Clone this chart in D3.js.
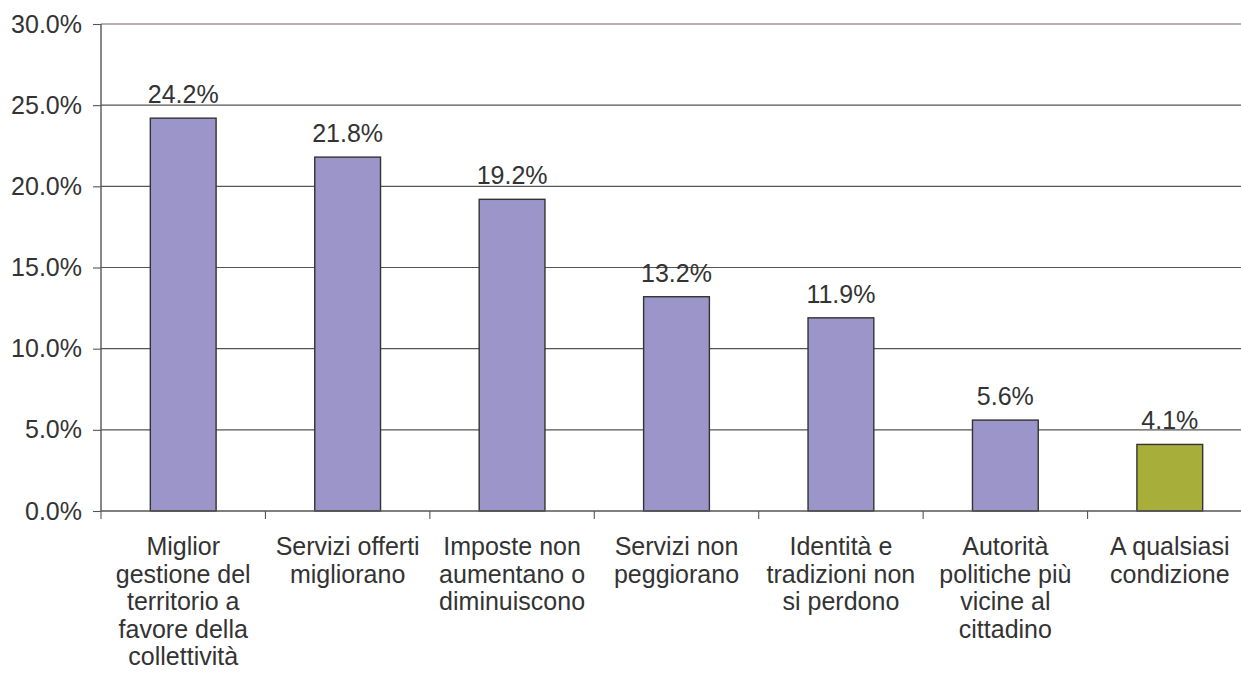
<!DOCTYPE html>
<html><head><meta charset="utf-8">
<script src="https://cdn.jsdelivr.net/npm/d3@7"></script>
<style>
html,body{margin:0;padding:0;background:#fff;overflow:hidden}
text{font-family:"Liberation Sans",Arial,sans-serif;fill:#333}
</style></head>
<body><svg id="c" width="1241" height="678"></svg>
<script>
const categories = [
  ["Miglior","gestione del","territorio a","favore della","collettività"],
  ["Servizi offerti","migliorano"],
  ["Imposte non","aumentano o","diminuiscono"],
  ["Servizi non","peggiorano"],
  ["Identità e","tradizioni non","si perdono"],
  ["Autorità","politiche più","vicine al","cittadino"],
  ["A qualsiasi","condizione"]
];
const values = [24.2, 21.8, 19.2, 13.2, 11.9, 5.6, 4.1];
const highlight = [false,false,false,false,false,false,true];
const yTicks = [0,5,10,15,20,25,30];

(function(){
const svg = d3.select("#c");
const fs = 25;
const pl = 101, pr = 1252, pt = 24, pb = 511;
const keys = categories.map((c,i)=>i);
const x = d3.scaleBand().domain(keys).range([pl,pr]).paddingInner(0.6).paddingOuter(0.3);
const y = d3.scaleLinear().domain([0,30]).range([pb,pt]);
const step = x.step();

// gridlines
svg.append("g").selectAll("line").data(yTicks.filter(d=>d>0)).join("line")
  .attr("x1",pl).attr("x2",1241)
  .attr("y1",d=>y(d)).attr("y2",d=>y(d))
  .attr("stroke",d=>d===30?"#a09494":"#555")
  .attr("stroke-width",d=>d===30?1.6:1.1);

// bars
svg.append("g").selectAll("rect").data(values).join("rect")
  .attr("x",(d,i)=>x(i)).attr("width",x.bandwidth())
  .attr("y",d=>y(d)).attr("height",d=>y(0)-y(d))
  .attr("fill",(d,i)=>highlight[i]?"#a8ae3a":"#9b95c9")
  .attr("stroke","#333").attr("stroke-width",1.4);

// value labels
svg.append("g").selectAll("text").data(values).join("text")
  .attr("x",(d,i)=>x(i)+x.bandwidth()/2).attr("y",d=>y(d)-15)
  .attr("text-anchor","middle").attr("font-size",fs)
  .text(d=>d.toFixed(1)+"%");

// y axis
const ya = svg.append("g").attr("transform",`translate(${pl},0)`)
  .call(d3.axisLeft(y).tickValues(yTicks).tickFormat(d=>d.toFixed(1)+"%").tickSize(8).tickPadding(11));
ya.select(".domain").attr("stroke","#555").attr("stroke-width",1.4).attr("d",`M0,${pt}V${pb}`);
ya.selectAll(".tick line").attr("stroke","#555").attr("stroke-width",1.1);
ya.selectAll(".tick text").attr("font-size",fs).attr("font-family","Liberation Sans, Arial, sans-serif").attr("fill","#333");

// x axis line
svg.append("line").attr("x1",pl).attr("x2",1241).attr("y1",pb).attr("y2",pb)
  .attr("stroke","#555").attr("stroke-width",1.4);
// x ticks at band boundaries
const bounds = keys.map(i=>x(i) - step*0.3).concat([x(keys.length-1)+x.bandwidth()+step*0.3]);
svg.append("g").selectAll("line").data(bounds.filter(b=>b<=1241)).join("line")
  .attr("x1",d=>d).attr("x2",d=>d).attr("y1",pb).attr("y2",pb+8)
  .attr("stroke","#555").attr("stroke-width",1.1);

// category labels
const cl = svg.append("g").selectAll("text").data(categories).join("text")
  .attr("text-anchor","middle").attr("font-size",fs)
  .attr("transform",(d,i)=>`translate(${x(i)+x.bandwidth()/2},${pb+44})`);
cl.selectAll("tspan").data(d=>d).join("tspan")
  .attr("x",0).attr("y",(d,j)=>j*27.5).text(d=>d);
})();
</script></body></html>
